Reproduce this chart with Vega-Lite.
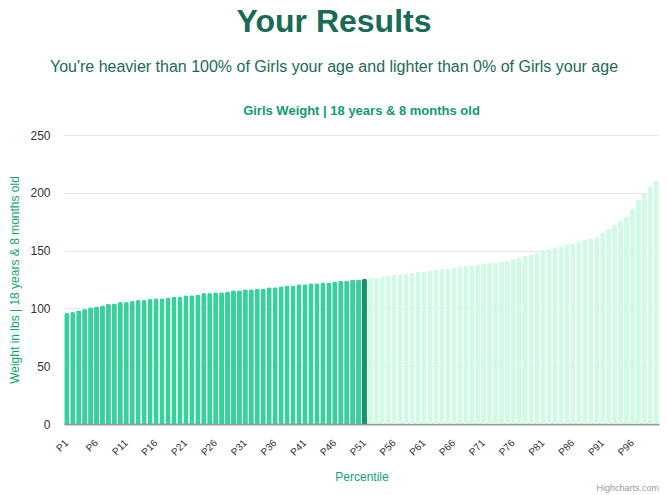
{
  "$schema": "https://vega.github.io/schema/vega-lite/v6.json",
  "background": "white",
  "padding": {"left": 8, "top": 6, "right": 3, "bottom": 4},
  "config": {"view": {"stroke": null}, "font": "Liberation Sans", "concat": {"spacing": 0}},
  "title": {
    "text": "Your Results",
    "subtitle": "You're heavier than 100% of Girls your age and lighter than 0% of Girls your age",
    "anchor": "middle",
    "font": "Liberation Sans",
    "fontSize": 32,
    "fontWeight": "bold",
    "color": "#1a6b55",
    "subtitleFont": "Liberation Sans",
    "subtitleFontSize": 16,
    "subtitleColor": "#1a6b55",
    "subtitlePadding": 20,
    "offset": 29
  },
  "vconcat": [
    {
      "title": {"text": "Highcharts.com", "orient": "bottom", "anchor": "end", "fontSize": 9, "fontWeight": "normal", "color": "#999999", "font": "Liberation Sans", "offset": 2},
      "vconcat": [
        {
          "width": 595,
          "height": 289,
          "title": {"text": "Girls Weight | 18 years & 8 months old", "anchor": "middle", "font": "Liberation Sans", "fontSize": 13, "fontWeight": "bold", "color": "#0f9d65", "offset": 11},
          "data": {
            "values": [
              {"p": "P1", "w": 96, "s": "below"},
              {"p": "P2", "w": 96.8, "s": "below"},
              {"p": "P3", "w": 98.3, "s": "below"},
              {"p": "P4", "w": 99.4, "s": "below"},
              {"p": "P5", "w": 100.9, "s": "below"},
              {"p": "P6", "w": 101.7, "s": "below"},
              {"p": "P7", "w": 102.6, "s": "below"},
              {"p": "P8", "w": 103.8, "s": "below"},
              {"p": "P9", "w": 104.3, "s": "below"},
              {"p": "P10", "w": 105.5, "s": "below"},
              {"p": "P11", "w": 105.5, "s": "below"},
              {"p": "P12", "w": 106.4, "s": "below"},
              {"p": "P13", "w": 107.2, "s": "below"},
              {"p": "P14", "w": 107.2, "s": "below"},
              {"p": "P15", "w": 108.1, "s": "below"},
              {"p": "P16", "w": 108.7, "s": "below"},
              {"p": "P17", "w": 108.7, "s": "below"},
              {"p": "P18", "w": 109.5, "s": "below"},
              {"p": "P19", "w": 110.4, "s": "below"},
              {"p": "P20", "w": 110.4, "s": "below"},
              {"p": "P21", "w": 111.3, "s": "below"},
              {"p": "P22", "w": 111.3, "s": "below"},
              {"p": "P23", "w": 112.1, "s": "below"},
              {"p": "P24", "w": 113.3, "s": "below"},
              {"p": "P25", "w": 113.3, "s": "below"},
              {"p": "P26", "w": 113.9, "s": "below"},
              {"p": "P27", "w": 113.9, "s": "below"},
              {"p": "P28", "w": 114.7, "s": "below"},
              {"p": "P29", "w": 115.6, "s": "below"},
              {"p": "P30", "w": 115.6, "s": "below"},
              {"p": "P31", "w": 116.5, "s": "below"},
              {"p": "P32", "w": 116.5, "s": "below"},
              {"p": "P33", "w": 117.3, "s": "below"},
              {"p": "P34", "w": 117.3, "s": "below"},
              {"p": "P35", "w": 118.2, "s": "below"},
              {"p": "P36", "w": 118.2, "s": "below"},
              {"p": "P37", "w": 119.1, "s": "below"},
              {"p": "P38", "w": 119.9, "s": "below"},
              {"p": "P39", "w": 119.9, "s": "below"},
              {"p": "P40", "w": 120.8, "s": "below"},
              {"p": "P41", "w": 120.8, "s": "below"},
              {"p": "P42", "w": 121.7, "s": "below"},
              {"p": "P43", "w": 121.7, "s": "below"},
              {"p": "P44", "w": 122.5, "s": "below"},
              {"p": "P45", "w": 122.5, "s": "below"},
              {"p": "P46", "w": 123.2, "s": "below"},
              {"p": "P47", "w": 124, "s": "below"},
              {"p": "P48", "w": 124, "s": "below"},
              {"p": "P49", "w": 124.9, "s": "below"},
              {"p": "P50", "w": 124.9, "s": "below"},
              {"p": "P51", "w": 125.7, "s": "you"},
              {"p": "P52", "w": 126.3, "s": "above"},
              {"p": "P53", "w": 126.3, "s": "above"},
              {"p": "P54", "w": 127.5, "s": "above"},
              {"p": "P55", "w": 128.3, "s": "above"},
              {"p": "P56", "w": 129.2, "s": "above"},
              {"p": "P57", "w": 129.2, "s": "above"},
              {"p": "P58", "w": 130, "s": "above"},
              {"p": "P59", "w": 130.9, "s": "above"},
              {"p": "P60", "w": 131.8, "s": "above"},
              {"p": "P61", "w": 131.8, "s": "above"},
              {"p": "P62", "w": 132.7, "s": "above"},
              {"p": "P63", "w": 133.5, "s": "above"},
              {"p": "P64", "w": 134.4, "s": "above"},
              {"p": "P65", "w": 134.4, "s": "above"},
              {"p": "P66", "w": 135.3, "s": "above"},
              {"p": "P67", "w": 136.1, "s": "above"},
              {"p": "P68", "w": 137, "s": "above"},
              {"p": "P69", "w": 137, "s": "above"},
              {"p": "P70", "w": 137.9, "s": "above"},
              {"p": "P71", "w": 138.7, "s": "above"},
              {"p": "P72", "w": 139.6, "s": "above"},
              {"p": "P73", "w": 139.6, "s": "above"},
              {"p": "P74", "w": 140.5, "s": "above"},
              {"p": "P75", "w": 141.3, "s": "above"},
              {"p": "P76", "w": 143.1, "s": "above"},
              {"p": "P77", "w": 144.2, "s": "above"},
              {"p": "P78", "w": 145.7, "s": "above"},
              {"p": "P79", "w": 146.5, "s": "above"},
              {"p": "P80", "w": 148.3, "s": "above"},
              {"p": "P81", "w": 150, "s": "above"},
              {"p": "P82", "w": 151.2, "s": "above"},
              {"p": "P83", "w": 152.6, "s": "above"},
              {"p": "P84", "w": 153.8, "s": "above"},
              {"p": "P85", "w": 155.2, "s": "above"},
              {"p": "P86", "w": 156.1, "s": "above"},
              {"p": "P87", "w": 157.8, "s": "above"},
              {"p": "P88", "w": 159.5, "s": "above"},
              {"p": "P89", "w": 160.4, "s": "above"},
              {"p": "P90", "w": 161.8, "s": "above"},
              {"p": "P91", "w": 165.3, "s": "above"},
              {"p": "P92", "w": 168.8, "s": "above"},
              {"p": "P93", "w": 172.3, "s": "above"},
              {"p": "P94", "w": 176, "s": "above"},
              {"p": "P95", "w": 179.2, "s": "above"},
              {"p": "P96", "w": 186.1, "s": "above"},
              {"p": "P97", "w": 193.9, "s": "above"},
              {"p": "P98", "w": 199.4, "s": "above"},
              {"p": "P99", "w": 205.2, "s": "above"},
              {"p": "P100", "w": 210.1, "s": "above"}
            ]
          },
          "mark": {"type": "bar", "cornerRadiusTopLeft": 2, "cornerRadiusTopRight": 2},
          "encoding": {
            "x": {
              "field": "p", "type": "nominal", "sort": null,
              "scale": {"paddingInner": 0.16, "paddingOuter": 0.04},
              "axis": {
                "title": "Percentile", "titleColor": "#12a56e", "titleFontSize": 12, "titleFontWeight": "normal", "titlePadding": 14,
                "values": ["P1","P6","P11","P16","P21","P26","P31","P36","P41","P46","P51","P56","P61","P66","P71","P76","P81","P86","P91","P96"],
                "labelAngle": -45, "labelAlign": "right", "labelBaseline": "middle", "labelFontSize": 10, "labelColor": "#333333", "labelPadding": 17,
                "ticks": false, "domainColor": "#999999", "domainWidth": 2
              }
            },
            "y": {
              "field": "w", "type": "quantitative",
              "scale": {"domain": [0, 250], "nice": false},
              "axis": {
                "title": "Weight in lbs | 18 years & 8 months old", "titleColor": "#12a56e", "titleFontSize": 12, "titleFontWeight": "normal", "titlePadding": 8,
                "values": [0, 50, 100, 150, 200, 250], "labelFontSize": 12, "labelColor": "#333333", "labelPadding": 14,
                "ticks": false, "domain": false, "gridColor": "#e6e6e6"
              }
            },
            "color": {
              "field": "s", "type": "nominal",
              "scale": {"domain": ["below", "you", "above"], "range": ["#36d399", "#0a9a68", "#d1fae5"]},
              "legend": null
            }
          }
        }
      ]
    }
  ]
}
